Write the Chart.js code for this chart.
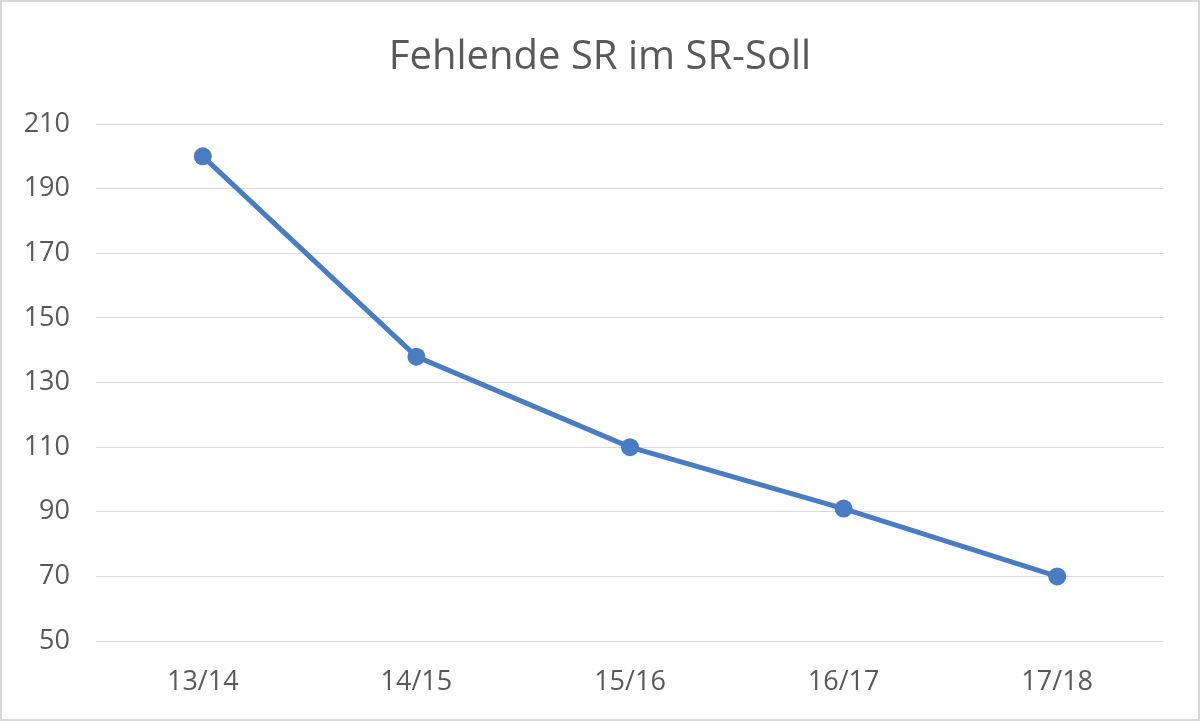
<!DOCTYPE html>
<html>
<head>
<meta charset="utf-8">
<script src="https://cdn.jsdelivr.net/npm/chart.js@4"></script>
<style>
html,body{margin:0;padding:0;background:#fff;}
#wrap{width:1200px;height:721px;position:relative;}
</style>
</head>
<body>
<div id="wrap"><canvas id="c" width="1200" height="721"></canvas></div>
<script>
const categories = ["13/14", "14/15", "15/16", "16/17", "17/18"];
const fehlendeSR = [200, 138, 110, 91, 70];
const yTicks = [50, 70, 90, 110, 130, 150, 170, 190, 210];
const titleText = "Fehlende SR im SR-Soll";

const textColor = "#595959";
const gridColor = "#d9d9d9";
const lineColor = "#4A7CC2";
const fontFamily = "'Open Sans', 'Noto Sans', sans-serif";

const frame = {
  id: "frame",
  beforeDraw(chart) {
    const ctx = chart.ctx;
    ctx.save();
    ctx.fillStyle = "#ffffff";
    ctx.fillRect(0, 0, chart.width, chart.height);
    ctx.restore();
  },
  afterDraw(chart) {
    const ctx = chart.ctx;
    ctx.save();
    ctx.strokeStyle = "#d9d9d9";
    ctx.lineWidth = 2;
    ctx.strokeRect(1, 1, chart.width - 2, chart.height - 2);
    ctx.restore();
  }
};

new Chart(document.getElementById("c"), {
  type: "line",
  data: {
    labels: categories,
    datasets: [{
      data: fehlendeSR,
      borderColor: lineColor,
      backgroundColor: lineColor,
      borderWidth: 5,
      pointRadius: 9,
      pointHoverRadius: 9,
      pointBackgroundColor: lineColor,
      pointBorderColor: lineColor,
      pointBorderWidth: 0,
      tension: 0,
      fill: false
    }]
  },
  options: {
    responsive: false,
    animation: false,
    devicePixelRatio: 1,
    layout: { padding: { left: 0, right: 0, top: 0, bottom: 0 } },
    plugins: {
      legend: { display: false },
      tooltip: { enabled: false },
      title: {
        display: true,
        text: titleText,
        color: textColor,
        font: { family: fontFamily, size: 40, weight: "normal", lineHeight: 1.2 },
        padding: { top: 34, bottom: 42 }
      }
    },
    scales: {
      x: {
        offset: true,
        grid: { display: false, drawTicks: false },
        border: { display: false },
        ticks: {
          color: textColor,
          font: { family: fontFamily, size: 27 },
          padding: 25,
          maxRotation: 0
        },
        afterFit(scale) { scale.height = 80; }
      },
      y: {
        min: 50,
        max: 210,
        afterBuildTicks(scale) { scale.ticks = yTicks.map(v => ({ value: v })); },
        grid: { color: gridColor, lineWidth: 1, drawTicks: false },
        border: { display: false },
        ticks: {
          color: textColor,
          font: { family: fontFamily, size: 27 },
          padding: 26
        },
        afterFit(scale) { scale.width = 96; }
      },
      yRight: {
        position: "right",
        display: true,
        grid: { display: false, drawTicks: false },
        border: { display: false },
        ticks: { display: false },
        afterFit(scale) { scale.width = 36; }
      }
    }
  },
  plugins: [frame]
});
</script>
</body>
</html>
